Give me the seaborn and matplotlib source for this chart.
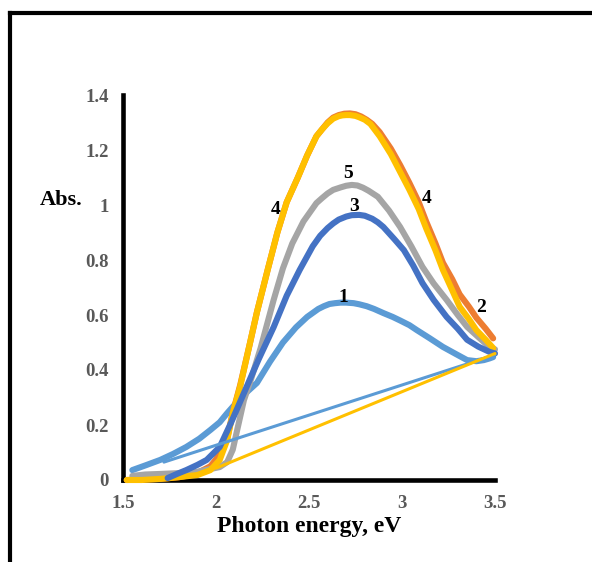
import matplotlib
matplotlib.use("Agg")
import matplotlib.pyplot as plt
import seaborn as sns
import pandas as pd
from matplotlib.lines import Line2D

sns.set_style("white")
plt.rcParams['font.family'] = ['Liberation Serif', 'DejaVu Serif']

# ---- data ----
x1 = [1.55, 1.62, 1.70, 1.77, 1.84, 1.91, 1.97, 2.02, 2.06, 2.09, 2.15, 2.22, 2.29, 2.36, 2.43, 2.49, 2.55, 2.58, 2.61, 2.64, 2.67, 2.70, 2.74, 2.77, 2.81, 2.85, 2.90, 2.95, 2.99, 3.04, 3.08, 3.15, 3.22, 3.29, 3.35, 3.40, 3.44, 3.47, 3.49]
y1 = [0.036, 0.053, 0.073, 0.095, 0.12, 0.15, 0.182, 0.21, 0.243, 0.266, 0.31, 0.353, 0.43, 0.50, 0.555, 0.593, 0.622, 0.632, 0.64, 0.643, 0.645, 0.645, 0.643, 0.639, 0.632, 0.622, 0.607, 0.593, 0.58, 0.563, 0.545, 0.515, 0.484, 0.458, 0.436, 0.432, 0.436, 0.442, 0.447]
x1_line = [1.72, 3.50]
y1_line = [0.065, 0.455]

x2 = [1.52, 1.60, 1.70, 1.80, 1.88, 1.93, 1.97, 2.00, 2.03, 2.06, 2.09, 2.13, 2.18, 2.22, 2.28, 2.33, 2.38, 2.44, 2.49, 2.54, 2.57, 2.60, 2.63, 2.66, 2.69, 2.72, 2.75, 2.78, 2.81, 2.84, 2.88, 2.94, 2.99, 3.04, 3.09, 3.13, 3.18, 3.22, 3.27, 3.31, 3.36, 3.40, 3.45, 3.49]
y2 = [0.0, 0.002, 0.004, 0.01, 0.02, 0.036, 0.05, 0.075, 0.11, 0.15, 0.245, 0.345, 0.49, 0.61, 0.77, 0.90, 1.01, 1.10, 1.18, 1.25, 1.275, 1.30, 1.318, 1.327, 1.332, 1.333, 1.33, 1.322, 1.31, 1.295, 1.265, 1.205, 1.145, 1.08, 1.01, 0.94, 0.86, 0.79, 0.73, 0.675, 0.63, 0.59, 0.55, 0.515]

x3 = [1.74, 1.79, 1.84, 1.90, 1.95, 2.02, 2.08, 2.15, 2.23, 2.31, 2.38, 2.45, 2.52, 2.56, 2.60, 2.63, 2.66, 2.70, 2.73, 2.77, 2.80, 2.84, 2.87, 2.90, 2.96, 3.01, 3.06, 3.11, 3.17, 3.24, 3.30, 3.35, 3.41, 3.47, 3.50]
y3 = [0.007, 0.022, 0.036, 0.055, 0.073, 0.12, 0.207, 0.316, 0.44, 0.556, 0.67, 0.764, 0.85, 0.888, 0.916, 0.933, 0.947, 0.958, 0.963, 0.964, 0.961, 0.95, 0.937, 0.92, 0.875, 0.836, 0.78, 0.716, 0.655, 0.593, 0.55, 0.51, 0.485, 0.466, 0.46]

x4 = [1.52, 1.60, 1.70, 1.75, 1.82, 1.90, 1.97, 2.02, 2.06, 2.09, 2.13, 2.18, 2.22, 2.28, 2.33, 2.38, 2.44, 2.49, 2.54, 2.57, 2.60, 2.63, 2.66, 2.68, 2.70, 2.72, 2.75, 2.77, 2.80, 2.83, 2.88, 2.94, 2.99, 3.04, 3.09, 3.13, 3.18, 3.22, 3.27, 3.31, 3.36, 3.40, 3.45, 3.49]
y4 = [0.0, 0.0, 0.004, 0.007, 0.012, 0.018, 0.036, 0.073, 0.145, 0.243, 0.34, 0.49, 0.61, 0.77, 0.90, 1.01, 1.10, 1.18, 1.25, 1.275, 1.297, 1.314, 1.323, 1.326, 1.327, 1.327, 1.324, 1.319, 1.31, 1.295, 1.25, 1.185, 1.12, 1.055, 0.985, 0.915, 0.835, 0.764, 0.69, 0.63, 0.585, 0.545, 0.51, 0.48]
x4_line = [2.00, 3.50]
y4_line = [0.043, 0.46]

x5 = [1.55, 1.62, 1.70, 1.80, 1.90, 1.97, 2.02, 2.06, 2.09, 2.12, 2.15, 2.19, 2.24, 2.31, 2.36, 2.41, 2.47, 2.54, 2.57, 2.60, 2.63, 2.67, 2.70, 2.73, 2.76, 2.79, 2.82, 2.87, 2.93, 2.99, 3.05, 3.11, 3.17, 3.24, 3.30, 3.35, 3.41, 3.47, 3.50]
y5 = [0.015, 0.02, 0.022, 0.025, 0.03, 0.04, 0.047, 0.065, 0.11, 0.2, 0.29, 0.37, 0.48, 0.655, 0.77, 0.86, 0.94, 1.007, 1.025, 1.042, 1.055, 1.064, 1.07, 1.073, 1.071, 1.063, 1.052, 1.03, 0.98, 0.92, 0.85, 0.775, 0.715, 0.655, 0.6, 0.557, 0.52, 0.484, 0.475]

series_labels = ["1", "2", "3", "4", "4", "5"]
label_x = [2.683, 3.425, 2.743, 2.323, 3.134, 2.711]
label_y = [0.665, 0.629, 0.993, 0.982, 1.025, 1.113]

x_ticks = [1.5, 2, 2.5, 3, 3.5]
x_tick_labels = ["1.5", "2", "2.5", "3", "3.5"]
y_ticks = [0, 0.2, 0.4, 0.6, 0.8, 1.0, 1.2, 1.4]
y_tick_labels = ["0", "0.2", "0.4", "0.6", "0.8", "1", "1.2", "1.4"]

c_lblue = "#5B9BD5"
c_orange = "#ED7D31"
c_gray = "#A5A5A5"
c_yellow = "#FFC000"
c_dblue = "#4472C4"

W, H = 592, 562
fig = plt.figure(figsize=(W / 100, H / 100), dpi=100)
ax = fig.add_axes([123 / W, 1 - 480 / H, (495 - 123) / W, (480 - 95) / H])

thick = 4.4
thin = 2.2

def draw(x, y, color, lw, z):
    df = pd.DataFrame({"x": x, "y": y})
    sns.lineplot(data=df, x="x", y="y", ax=ax, color=color, linewidth=lw,
                 sort=False, estimator=None, zorder=z, clip_on=False,
                 solid_capstyle="round", solid_joinstyle="round")

draw(x1, y1, c_lblue, thick, 2)
draw(x2, y2, c_orange, thick, 3)
draw(x5, y5, c_gray, thick, 3.5)
draw(x4, y4, c_yellow, thick, 4)
draw(x3, y3, c_dblue, thick, 5)
draw(x1_line, y1_line, c_lblue, thin, 6)
draw(x4_line, y4_line, c_yellow, thin, 6)

for t, lx, ly in zip(series_labels, label_x, label_y):
    ax.text(lx, ly, t, fontsize=14, fontweight="bold", color="black",
            ha="center", va="center", zorder=10)

ax.set_xlim(1.5, 3.5)
ax.set_ylim(0, 1.4)
ax.set_xticks(x_ticks)
ax.set_xticklabels(x_tick_labels)
ax.set_yticks(y_ticks)
ax.set_yticklabels(y_tick_labels)
ax.tick_params(axis="both", direction="out", length=4, width=3.3, color="black",
               labelsize=13.5, labelcolor="#595959")
ax.tick_params(axis="x", pad=7)
ax.tick_params(axis="y", pad=6)
for lab in ax.get_xticklabels() + ax.get_yticklabels():
    lab.set_fontweight("bold")

for s in ["top", "right"]:
    ax.spines[s].set_visible(False)
for s in ["left", "bottom"]:
    ax.spines[s].set_linewidth(3.3)
    ax.spines[s].set_color("black")

ax.set_xlabel("Photon energy, eV", fontsize=17, fontweight="bold", color="black", labelpad=3)
ax.set_ylabel("")
fig.text(61 / W, 1 - 200 / H, "Abs.", fontsize=16, fontweight="bold", color="black",
         ha="center", va="center")

# outer frame (top and left edges visible)
fig.add_artist(Line2D([9.5 / W, 9.5 / W], [0, 1 - 12.5 / H], transform=fig.transFigure,
                      color="black", linewidth=3, solid_capstyle="projecting"))
fig.add_artist(Line2D([9.5 / W, 1.0], [1 - 12.5 / H, 1 - 12.5 / H], transform=fig.transFigure,
                      color="black", linewidth=3, solid_capstyle="projecting"))

fig.savefig("out.png", dpi=100, facecolor="white")
